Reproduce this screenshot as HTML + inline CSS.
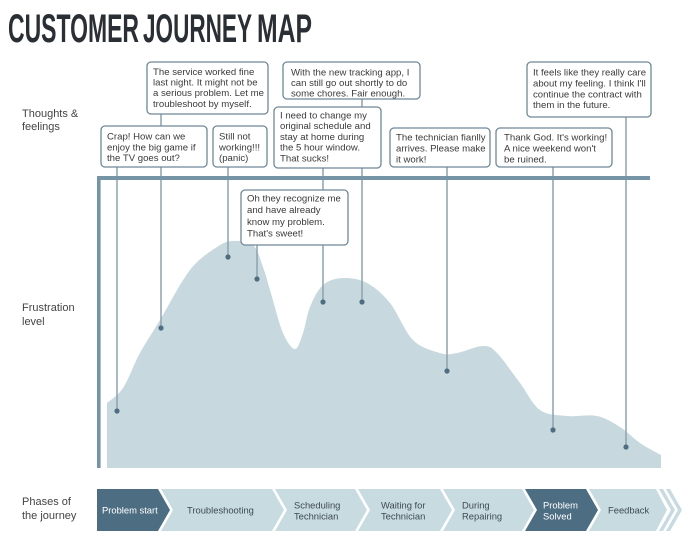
<!DOCTYPE html>
<html>
<head>
<meta charset="utf-8">
<style>
  html,body{margin:0;padding:0;background:#fff;}
  svg{display:block;}
  .b{fill:#fff;stroke:#6f8896;stroke-width:1.3;}
  .t{font-family:"Liberation Sans",Helvetica,Arial,sans-serif;font-size:9.6px;fill:#3a3a3a;}
  .lbl{font-family:"Liberation Sans",Helvetica,Arial,sans-serif;font-size:11px;fill:#444;}
  .ph{font-family:"Liberation Sans",Helvetica,Arial,sans-serif;font-size:9.4px;fill:#3d4a52;}
  .phw{font-family:"Liberation Sans",Helvetica,Arial,sans-serif;font-size:9.4px;fill:#fff;}
  .pin{stroke:#8ea3ae;stroke-width:1.5;}
  .dot{fill:#4f6d80;}
</style>
</head>
<body>
<svg width="700" height="544" viewBox="0 0 700 544" xmlns="http://www.w3.org/2000/svg">
  <!-- Title -->
  <g font-family="'Liberation Sans',Arial,sans-serif" font-weight="bold" font-size="40" fill="#2a2f35">
    <text x="8" y="42" textLength="131" lengthAdjust="spacingAndGlyphs">CUSTOMER</text>
    <text x="143" y="42" textLength="109" lengthAdjust="spacingAndGlyphs">JOURNEY</text>
    <text x="257" y="42" textLength="55" lengthAdjust="spacingAndGlyphs">MAP</text>
  </g>

  <!-- Row labels -->
  <text class="lbl" x="22" y="117">Thoughts &amp;</text>
  <text class="lbl" x="22" y="130">feelings</text>
  <text class="lbl" x="22" y="311">Frustration</text>
  <text class="lbl" x="22" y="325">level</text>
  <text class="lbl" x="22" y="505">Phases of</text>
  <text class="lbl" x="22" y="519">the journey</text>

  <!-- Frustration area -->
  <path fill="#c7d9de" d="M107,468 L107,403
    C109.7,400.5 117.5,396.3 123,388
    C128.5,379.7 133.8,364.3 140,353
    C146.2,341.7 151.7,333.8 160,320
    C168.3,306.2 180.5,282.2 190,270
    C199.5,257.8 209.8,251.8 217,247
    C224.2,242.2 227,241.3 233,241
    C239,240.7 248,240.7 253,245
    C258,249.3 259.8,258.3 263,267
    C266.2,275.7 268.7,286 272,297
    C275.3,308 279.2,324.3 283,333
    C286.8,341.7 291.7,349 295,349
    C298.3,349 300.5,340 303,333
    C305.5,326 306.7,315 310,307
    C313.3,299 317.5,289.8 323,285
    C328.5,280.2 335.7,278.3 343,278
    C350.3,277.7 359.2,278.8 367,283
    C374.8,287.2 382.3,293.5 390,303
    C397.7,312.5 404.7,331.7 413,340
    C421.3,348.3 432.7,350.8 440,353
    C447.3,355.2 449.8,354.2 457,353
    C464.2,351.8 476.3,346 483,346
    C489.7,346 490.8,346.8 497,353
    C503.2,359.2 512.8,373.5 520,383
    C527.2,392.5 532.2,404.5 540,410
    C547.8,415.5 557.5,415 567,416
    C576.5,417 588.2,414.2 597,416
    C605.8,417.8 612.8,422.5 620,427
    C627.2,431.5 633.2,438.3 640,443
    C646.8,447.7 657.5,453 661,455
    L661,468 Z"/>

  <!-- Pin lines -->
  <line class="pin" x1="117" y1="167" x2="117" y2="411"/>
  <line class="pin" x1="161" y1="114" x2="161" y2="328"/>
  <line class="pin" x1="228" y1="167" x2="228" y2="257"/>
  <line class="pin" x1="257" y1="245" x2="257" y2="279"/>
  <line class="pin" x1="323" y1="168" x2="323" y2="302"/>
  <line class="pin" x1="362" y1="99" x2="362" y2="302"/>
  <line class="pin" x1="447" y1="167" x2="447" y2="371"/>
  <line class="pin" x1="553" y1="167" x2="553" y2="430"/>
  <line class="pin" x1="626" y1="117" x2="626" y2="447"/>

  <!-- Axes bars -->
  <rect x="97" y="176" width="553" height="4" fill="#7594a6"/>
  <rect x="97" y="176" width="3.6" height="292" fill="#7594a6"/>

  <!-- Dots -->
  <circle class="dot" cx="117" cy="411" r="2.6"/>
  <circle class="dot" cx="161" cy="328" r="2.6"/>
  <circle class="dot" cx="228" cy="257" r="2.6"/>
  <circle class="dot" cx="257" cy="279" r="2.6"/>
  <circle class="dot" cx="323" cy="302" r="2.6"/>
  <circle class="dot" cx="362" cy="302" r="2.6"/>
  <circle class="dot" cx="447" cy="371" r="2.6"/>
  <circle class="dot" cx="553" cy="430" r="2.6"/>
  <circle class="dot" cx="626" cy="447" r="2.6"/>

  <!-- Bubbles -->
  <rect class="b" x="147" y="62" width="121" height="52" rx="4"/>
  <text class="t"><tspan x="153" y="75">The service worked fine</tspan><tspan x="153" y="85.6">last night. It might not be</tspan><tspan x="153" y="96.2">a serious problem. Let me</tspan><tspan x="153" y="106.8">troubleshoot by myself.</tspan></text>

  <rect class="b" x="101" y="126" width="106" height="41" rx="4"/>
  <text class="t"><tspan x="107" y="139.5">Crap! How can we</tspan><tspan x="107" y="150.3">enjoy the big game if</tspan><tspan x="107" y="161">the TV goes out?</tspan></text>

  <rect class="b" x="213" y="126" width="54" height="41" rx="4"/>
  <text class="t"><tspan x="219" y="139.5">Still not</tspan><tspan x="219" y="150.3">working!!!</tspan><tspan x="219" y="161">(panic)</tspan></text>

  <rect class="b" x="283" y="62" width="137" height="37" rx="4"/>
  <text class="t"><tspan x="291" y="75.3">With the new tracking app, I</tspan><tspan x="291" y="85.9">can still go out shortly to do</tspan><tspan x="291" y="96.5">some chores. Fair enough.</tspan></text>

  <rect class="b" x="274" y="107" width="107" height="61" rx="4"/>
  <text class="t"><tspan x="280" y="118.5">I need to change my</tspan><tspan x="280" y="129.2">original schedule and</tspan><tspan x="280" y="140">stay at home during</tspan><tspan x="280" y="150.7">the 5 hour window.</tspan><tspan x="280" y="161.4">That sucks!</tspan></text>

  <rect class="b" x="390" y="128" width="100" height="39" rx="4"/>
  <text class="t"><tspan x="396" y="140.7">The technician fianlly</tspan><tspan x="396" y="151.5">arrives. Please make</tspan><tspan x="396" y="162.3">it work!</tspan></text>

  <rect class="b" x="496" y="128" width="116" height="39" rx="4"/>
  <text class="t"><tspan x="504" y="140.7">Thank God. It's working!</tspan><tspan x="504" y="151.5">A nice weekend won't</tspan><tspan x="504" y="162.3">be ruined.</tspan></text>

  <rect class="b" x="527" y="62" width="124" height="55" rx="4"/>
  <text class="t"><tspan x="533" y="75.7">It feels like they really care</tspan><tspan x="533" y="86.5">about my feeling. I think I'll</tspan><tspan x="533" y="97.3">continue the contract with</tspan><tspan x="533" y="108">them in the future.</tspan></text>

  <rect class="b" x="241" y="190" width="107" height="55" rx="4"/>
  <text class="t"><tspan x="247" y="201.5">Oh they recognize me</tspan><tspan x="247" y="213.2">and have already</tspan><tspan x="247" y="225">know my problem.</tspan><tspan x="247" y="236.7">That's sweet!</tspan></text>

  <!-- Phases bar -->
  <polygon fill="#4d6e82" points="97,489 158,489 170,510 158,531 97,531"/>
  <polygon fill="#c8dbe0" points="161,489 272,489 284,510 272,531 161,531 173,510"/>
  <polygon fill="#c8dbe0" points="275,489 355,489 367,510 355,531 275,531 287,510"/>
  <polygon fill="#c8dbe0" points="358,489 440,489 452,510 440,531 358,531 370,510"/>
  <polygon fill="#c8dbe0" points="443,489 522,489 534,510 522,531 443,531 455,510"/>
  <polygon fill="#4d6e82" points="525,489 586,489 598,510 586,531 525,531 537,510"/>
  <polygon fill="#c8dbe0" points="589,489 656,489 667,510 656,531 589,531 601,510"/>
  <polygon fill="#c8dbe0" points="659,489 663,489 675,510 663,531 659,531 671,510"/>
  <polygon fill="#c8dbe0" points="666,489 670,489 682,510 670,531 666,531 678,510"/>

  <text class="phw" x="102" y="513.5">Problem start</text>
  <text class="ph" x="187" y="513.5">Troubleshooting</text>
  <text class="ph"><tspan x="294" y="508.5">Scheduling</tspan><tspan x="294" y="519.5">Technician</tspan></text>
  <text class="ph"><tspan x="381" y="508.5">Waiting for</tspan><tspan x="381" y="519.5">Technician</tspan></text>
  <text class="ph"><tspan x="462" y="508.5">During</tspan><tspan x="462" y="519.5">Repairing</tspan></text>
  <text class="phw"><tspan x="543" y="508.5">Problem</tspan><tspan x="543" y="519.5">Solved</tspan></text>
  <text class="ph" x="608" y="513.5">Feedback</text>
</svg>
</body>
</html>
